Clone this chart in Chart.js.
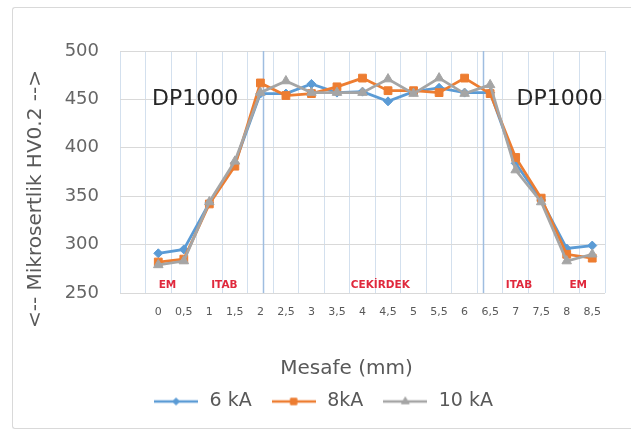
<!DOCTYPE html>
<html lang="tr">
<head>
<meta charset="utf-8">
<title>Mikrosertlik</title>
<script src="https://cdn.jsdelivr.net/npm/chart.js@4.4.1/dist/chart.umd.min.js"></script>
<style>
  html, body { margin: 0; padding: 0; background: #fff; overflow: hidden; }
  #wrap { position: relative; width: 631px; height: 430px; overflow: hidden; }
  /* dis cerceve - sag kenari yok */
  #frame { position: absolute; left: 12px; top: 7px; width: 640px; height: 420px; border: 1px solid #d9d9d9; border-right: none; border-radius: 3px 0 0 3px; }
  #hv-chart { position: absolute; left: 0; top: 0; }
</style>
</head>
<body>
<div id="wrap">
  <div id="frame"></div>
  <canvas id="hv-chart" width="631" height="430"></canvas>
</div>
<script>
  // Mesafe (mm) - ilk kategori bos birakilmis
  const categories = ['', '0', '0,5', '1', '1,5', '2', '2,5', '3', '3,5', '4', '4,5', '5', '5,5', '6', '6,5', '7', '7,5', '8', '8,5'];

  // Mikrosertlik HV0.2
  const sixKA   = [null, 291, 295, 343, 384, 456, 456, 466, 457, 458, 448, 458, 462, 457, 457, 384, 346, 296, 299];
  const eightKA = [null, 282, 285, 342, 381, 467, 454, 456, 463, 472, 459, 459, 457, 472, 456, 390, 348, 290, 286];
  const tenKA   = [null, 279, 283, 344, 386, 457, 469, 457, 457, 457, 471, 456, 472, 456, 465, 377, 344, 283, 290];

  const seriesNames = ['6 kA', '8kA', '10 kA'];
  const yTicks = [250, 300, 350, 400, 450, 500];

  // bolge etiketleri (EM / ITAB / CEKIRDEK)
  const regionNames = ['EM', 'ITAB', 'CEKİRDEK', 'ITAB', 'EM'];
  const materialName = 'DP1000';
  const xTitle = 'Mesafe (mm)';
  const yTitle = '<-- Mikrosertlik HV0.2 -->';

  const colors = ['#5b9bd5', '#ed7d31', '#a5a5a5'];
  const pointStyles = ['rectRot', 'rect', 'triangle'];
  const pointRadii = [4.5, 5.5, 5.5];

  // legend ikonu: cizgi + isaret
  function legendIcon(i) {
    const c = document.createElement('canvas');
    c.width = 44; c.height = 14;
    const ctx = c.getContext('2d');
    ctx.strokeStyle = colors[i];
    ctx.fillStyle = colors[i];
    ctx.lineWidth = 2.5;
    ctx.beginPath();
    ctx.moveTo(0, 7);
    ctx.lineTo(44, 7);
    ctx.stroke();
    ctx.lineWidth = 1;
    Chart.helpers.drawPoint(ctx, { pointStyle: pointStyles[i], radius: pointRadii[i] - 1, borderWidth: 1 }, 22, 7);
    return c;
  }

  const annotations = {
    id: 'annotations',
    beforeDatasetsDraw(chart) {
      const { ctx, chartArea: a, scales: { x } } = chart;
      ctx.save();
      ctx.strokeStyle = '#9fbde0';
      ctx.lineWidth = 1.5;
      [5.11, 13.74].forEach(v => {
        const px = Math.round(x.getPixelForValue(v)) + 0.5;
        ctx.beginPath();
        ctx.moveTo(px, a.top);
        ctx.lineTo(px, a.bottom);
        ctx.stroke();
      });
      ctx.restore();
    },
    afterDatasetsDraw(chart) {
      const { ctx, chartArea: a, scales: { x, y } } = chart;
      ctx.save();
      ctx.textAlign = 'center';
      ctx.textBaseline = 'middle';
      ctx.fillStyle = '#e0283c';
      ctx.font = "bold 10.5px 'DejaVu Sans', sans-serif";
      [1.36, 3.59, 9.7, 15.13, 17.45].forEach((v, i) => {
        ctx.fillText(regionNames[i], x.getPixelForValue(v), y.getPixelForValue(258));
      });
      ctx.fillStyle = '#262626';
      ctx.font = "22px 'DejaVu Sans', sans-serif";
      [2.44, 16.72].forEach(v => {
        ctx.fillText(materialName, x.getPixelForValue(v), y.getPixelForValue(450));
      });
      // eksen basliklari (excel'deki gibi biraz sola/asagi kaymis)
      ctx.fillStyle = '#595959';
      ctx.font = "20px 'DejaVu Sans', sans-serif";
      ctx.fillText(xTitle, (a.left + a.right) / 2 - 16, 369);
      ctx.translate(36, (a.top + a.bottom) / 2 + 27);
      ctx.rotate(-Math.PI / 2);
      ctx.fillText(yTitle, 0, 0);
      ctx.restore();
    }
  };

  Chart.defaults.font.family = "'DejaVu Sans', sans-serif";
  Chart.defaults.color = '#595959';

  const datasets = [sixKA, eightKA, tenKA].map((d, i) => ({
    label: seriesNames[i],
    data: d,
    borderColor: colors[i],
    backgroundColor: colors[i],
    borderWidth: 2.75,
    pointStyle: pointStyles[i],
    pointRadius: pointRadii[i],
    pointBorderWidth: 1,
    tension: 0,
    order: 3 - i
  }));

  const icons = [0, 1, 2].map(legendIcon);

  new Chart(document.getElementById('hv-chart'), {
    type: 'line',
    data: { labels: categories, datasets: datasets },
    plugins: [annotations],
    options: {
      responsive: false,
      animation: false,
      layout: { padding: { left: 14, right: 0, top: 51, bottom: 9 } },
      plugins: {
        tooltip: { enabled: false },
        legend: {
          position: 'bottom',
          labels: {
            usePointStyle: true,
            pointStyleWidth: 48,
            boxHeight: 14,
            padding: 18,
            font: { size: 19 },
            color: '#595959',
            sort: (a, b) => a.datasetIndex - b.datasetIndex,
            generateLabels(chart) {
              const items = Chart.defaults.plugins.legend.labels.generateLabels(chart);
              items.forEach(it => { it.pointStyle = icons[it.datasetIndex]; });
              return items;
            }
          }
        }
      },
      scales: {
        x: {
          offset: true,
          grid: { offset: true, color: '#d3e0ee', drawTicks: false },
          border: { display: false },
          ticks: { autoSkip: false, maxRotation: 0, padding: 13, font: { size: 11 } },
          afterFit: s => { s.height = 81; }
        },
        y: {
          min: 250,
          max: 500,
          afterBuildTicks: s => { s.ticks = yTicks.map(v => ({ value: v })); },
          grid: { color: '#d9d9d9', drawTicks: false },
          border: { display: false },
          ticks: { padding: 21, font: { size: 18 }, color: '#666666' },
          afterFit: s => { s.width = 106; }
        },
        yRight: {
          position: 'right',
          display: true,
          grid: { display: false },
          border: { display: false },
          ticks: { display: false },
          afterFit: s => { s.width = 26; }
        }
      }
    }
  });
</script>
</body>
</html>
